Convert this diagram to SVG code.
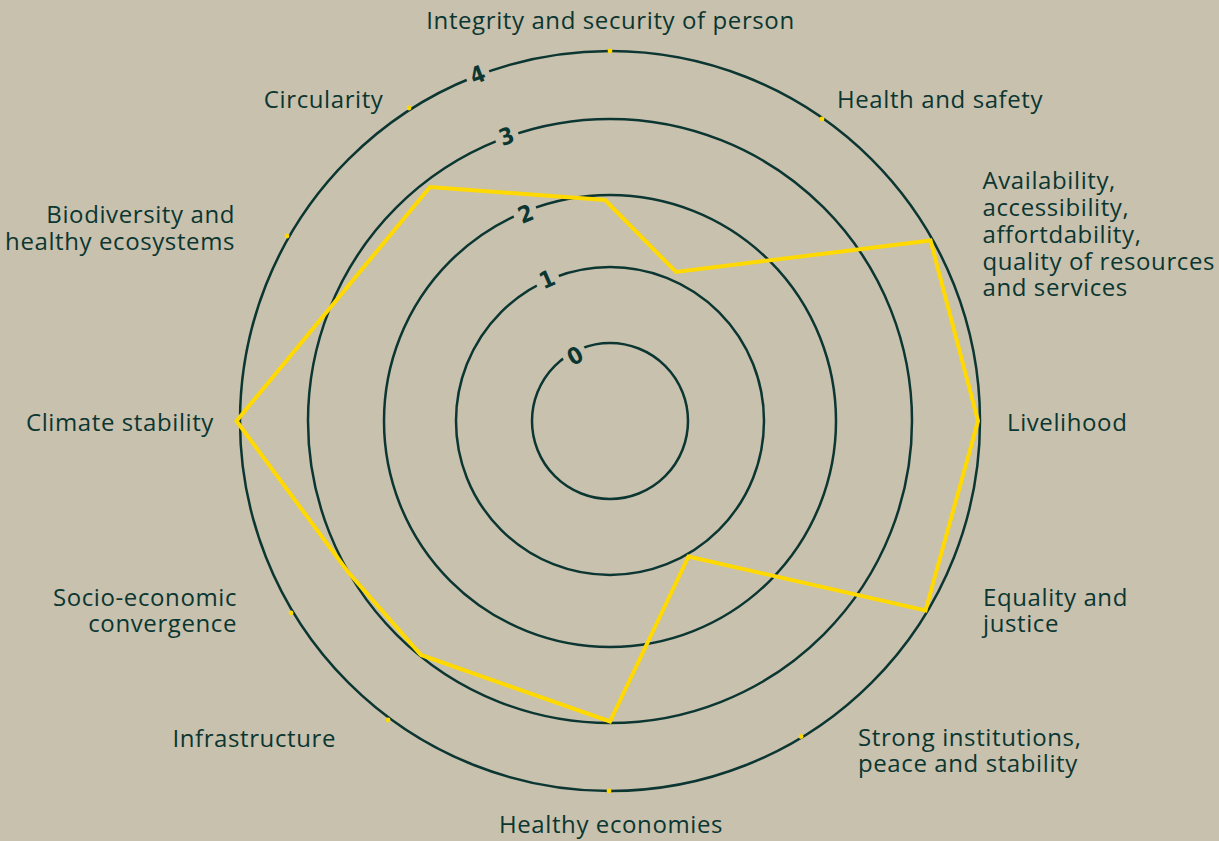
<svg xmlns="http://www.w3.org/2000/svg" width="1219" height="841" viewBox="0 0 1219 841">
<style>
.bg{fill:#C8C1AE}
.ring{fill:none;stroke:#0B3631;stroke-width:2.5}
.gap{fill:#C8C1AE}
.num{font-family:"Liberation Sans Narrow","DejaVu Sans Condensed","Liberation Sans",sans-serif;font-weight:bold;font-size:23px;fill:#0B3631;text-anchor:middle}
.lbl{font-family:"Open Sans","Noto Sans",sans-serif;font-size:24px;letter-spacing:0.6px;fill:#0B3631}
.e{text-anchor:end}
.m{text-anchor:middle}
.tick{fill:#FFD900}
.data{fill:none;stroke:#FFD900;stroke-width:4;stroke-linejoin:miter}
</style>
<rect class="bg" x="0" y="0" width="1219" height="841"/>
<g id="rings">
<circle class="ring" cx="610" cy="421" r="78"/>
<circle class="ring" cx="610" cy="421" r="154"/>
<circle class="ring" cx="610" cy="421" r="226"/>
<circle class="ring" cx="610" cy="421" r="302"/>
<circle class="ring" cx="610" cy="421" r="370"/>
</g>
<g id="scale">
<g transform="translate(575,355.5) rotate(-28)"><rect class="gap" x="-12" y="-7" width="24" height="14"/><text class="num" x="0" y="8.3">0</text></g>
<g transform="translate(547,279) rotate(-24)"><rect class="gap" x="-12" y="-7" width="24" height="14"/><text class="num" x="0" y="8.3">1</text></g>
<g transform="translate(525.5,213.5) rotate(-22)"><rect class="gap" x="-12" y="-7" width="24" height="14"/><text class="num" x="0" y="8.3">2</text></g>
<g transform="translate(506.5,136) rotate(-20)"><rect class="gap" x="-12" y="-7" width="24" height="14"/><text class="num" x="0" y="8.3">3</text></g>
<g transform="translate(477.5,74.5) rotate(-21)"><rect class="gap" x="-12" y="-7" width="24" height="14"/><text class="num" x="0" y="8.3">4</text></g>
</g>
<g id="ticks">
<circle class="tick" cx="610" cy="51" r="2.4"/>
<circle class="tick" cx="822" cy="119" r="2.4"/>
<circle class="tick" cx="409" cy="108" r="2.4"/>
<circle class="tick" cx="287" cy="236" r="2.4"/>
<circle class="tick" cx="291" cy="613" r="2.4"/>
<circle class="tick" cx="388" cy="720" r="2.4"/>
<circle class="tick" cx="801" cy="736.5" r="2.4"/>
<circle class="tick" cx="609" cy="791" r="2.4"/>
</g>
<g id="connectors">
<polygon class="data" points="605,200 676,272 930.5,240.5 978,421 925.5,610.5 688.5,556.5 610,721.5 421,655 348,572 236.5,421 430,187"/>
</g>
<g id="integrity"><text class="lbl m" x="610.5" y="29">Integrity and security of person</text></g>
<g id="health"><text class="lbl" x="837" y="108">Health and safety</text></g>
<g id="availability"><text class="lbl" x="982.5" y="189">Availability,</text><text class="lbl" x="982.5" y="216">accessibility,</text><text class="lbl" x="982.5" y="243">affortdability,</text><text class="lbl" x="982.5" y="269.5">quality of resources</text><text class="lbl" x="982.5" y="296">and services</text></g>
<g id="livelihood"><text class="lbl" x="1007" y="431">Livelihood</text></g>
<g id="equality"><text class="lbl" x="983" y="606">Equality and</text><text class="lbl" x="983" y="632">justice</text></g>
<g id="institutions"><text class="lbl" x="858" y="746">Strong institutions,</text><text class="lbl" x="858" y="772">peace and stability</text></g>
<g id="economies"><text class="lbl m" x="611" y="833">Healthy economies</text></g>
<g id="infrastructure"><text class="lbl e" x="336" y="747">Infrastructure</text></g>
<g id="socio"><text class="lbl e" x="237" y="606">Socio-economic</text><text class="lbl e" x="237" y="632">convergence</text></g>
<g id="climate"><text class="lbl e" x="214" y="431">Climate stability</text></g>
<g id="biodiversity"><text class="lbl e" x="235" y="223">Biodiversity and</text><text class="lbl e" x="235" y="249.5">healthy ecosystems</text></g>
<g id="circularity"><text class="lbl e" x="383.5" y="107.5">Circularity</text></g>
</svg>
